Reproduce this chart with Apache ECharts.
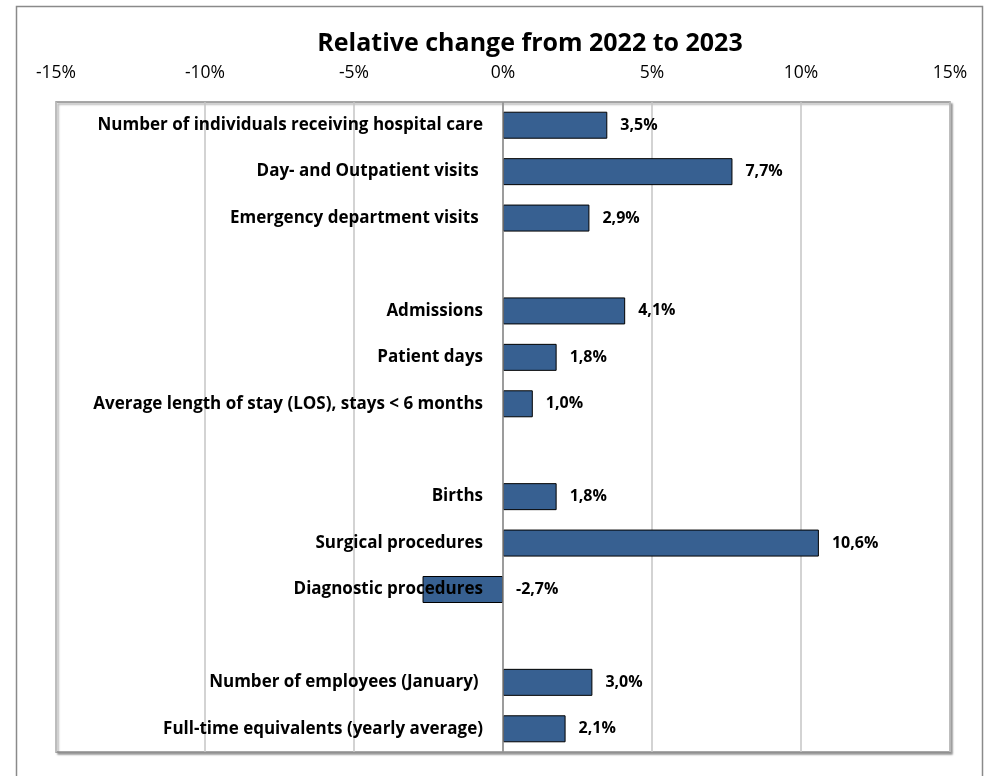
<!DOCTYPE html>
<html>
<head>
<meta charset="utf-8">
<script src="https://cdn.jsdelivr.net/npm/echarts@6/dist/echarts.min.js"></script>
<style>html,body{margin:0;padding:0;background:#fff}#c{width:985px;height:776px}</style>
</head>
<body>
<div id="c"></div>
<script>
const categories = [
  'Number of individuals receiving hospital care',
  'Day- and Outpatient visits ',
  'Emergency department visits ',
  '',
  'Admissions',
  'Patient days',
  'Average length of stay (LOS), stays < 6 months',
  ' ',
  'Births',
  'Surgical procedures',
  'Diagnostic procedures',
  '  ',
  'Number of employees (January) ',
  'Full-time equivalents (yearly average)'
];
const values = [3.5, 7.7, 2.9, null, 4.1, 1.8, 1.0, null, 1.8, 10.6, -2.7, null, 3.0, 2.1];
const xTicks = { min: -15, max: 15, interval: 5 };
const titleText = 'Relative change from 2022 to 2023';

const FONT = '"Open Sans", Lato, sans-serif';
const GRID_LEFT = 56, GRID_RIGHT = 35;
const chart = echarts.init(document.getElementById('c'));
chart.setOption({
  animation: false,
  backgroundColor: '#fff',
  title: {
    text: titleText, left: 525, top: 26, textAlign: 'center',
    textStyle: { fontFamily: FONT, fontSize: 25, fontWeight: 'bold', color: '#000' }
  },
  graphic: [{
    type: 'rect', shape: { x: 16.5, y: 6.5, width: 966, height: 790 },
    style: { fill: 'none', stroke: '#8a8a8a', lineWidth: 1.5 }, silent: true, z: -1
  }],
  grid: {
    left: GRID_LEFT, right: GRID_RIGHT, top: 102, bottom: 24, show: true, containLabel: false, outerBoundsMode: 'none',
    borderColor: '#8a8a8a', borderWidth: 1.5, backgroundColor: '#fff',
    shadowColor: 'rgba(0,0,0,0.35)', shadowBlur: 2, shadowOffsetX: 2, shadowOffsetY: 2
  },
  xAxis: {
    type: 'value', position: 'top', min: xTicks.min, max: xTicks.max, interval: xTicks.interval,
    axisLine: { show: false }, axisTick: { show: false },
    axisLabel: { formatter: v => v + '%', fontFamily: FONT, fontSize: 17.5, color: '#000', margin: 20 },
    splitLine: { show: true, lineStyle: { color: '#c4c4c4', width: 1.5 } }
  },
  yAxis: {
    type: 'category', inverse: true, data: categories, z: 5,
    axisLine: { show: false },
    axisTick: { show: false },
    axisLabel: {
      fontFamily: FONT, fontSize: 17, fontWeight: 'bold', color: '#000',
      // labels end 20px left of the zero line (zero is at the middle of the -15..15 range)
      margin: -((985 - GRID_LEFT - GRID_RIGHT) / 2 - 20)
    },
    splitLine: { show: false }
  },
  series: [{
    type: 'bar', data: values, barWidth: 27,
    itemStyle: { color: '#376091', borderColor: '#000', borderWidth: 1 },
    label: {
      show: true, position: 'right', distance: 13,
      formatter: p => p.value == null ? '' : p.value.toFixed(1).replace('.', ',') + '%',
      fontFamily: FONT, fontSize: 16, fontWeight: 'bold', color: '#000'
    },
    markLine: {
      silent: true, symbol: 'none', label: { show: false },
      lineStyle: { color: '#8a8a8a', width: 1.5, type: 'solid' },
      data: [{ xAxis: 0 }]
    }
  }]
});
</script>
</body>
</html>
